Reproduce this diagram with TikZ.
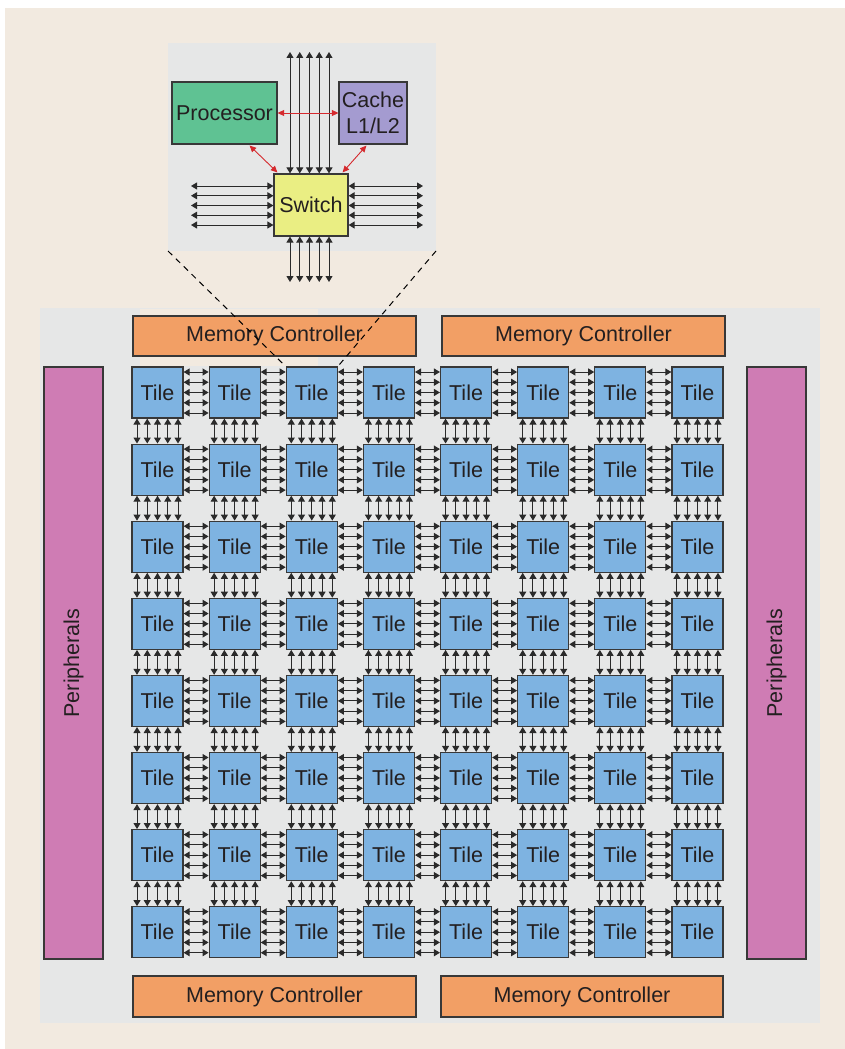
\documentclass[tikz,border=0pt]{standalone}
\usepackage{fontspec}
\setmainfont{Liberation Sans}
\usetikzlibrary{arrows.meta,calc}
\definecolor{bgbeige}{HTML}{F2EAE0}
\definecolor{chipgray}{HTML}{E6E7E7}
\definecolor{memorange}{HTML}{F29F65}
\definecolor{perpink}{HTML}{CF7CB4}
\definecolor{tileblue}{HTML}{7EB3E1}
\definecolor{procgreen}{HTML}{5FC293}
\definecolor{cachepurple}{HTML}{A49BD0}
\definecolor{switchyellow}{HTML}{EAEE83}
\definecolor{redc}{HTML}{D52A2E}
\definecolor{boxline}{HTML}{383838}
\definecolor{arrline}{HTML}{2A2A2A}
\definecolor{txt}{HTML}{231F20}
\begin{document}
\begin{tikzpicture}[x=1pt,y=-1pt,
  box/.style={draw=boxline,line width=1.2pt,inner sep=0pt,text=txt,align=center,font=\fontsize{21.5}{26}\selectfont},
  tilebox/.style={box,fill=tileblue,minimum width=51pt,minimum height=51pt},
  mcbox/.style={box,fill=memorange,minimum height=40pt},
  perbox/.style={box,fill=perpink,minimum width=592pt,minimum height=59pt,rotate=90},
  arr/.style={line width=1pt,draw=arrline,{Triangle[length=6pt,width=7pt]}-{Triangle[length=6pt,width=7pt]}},
  redarr/.style={line width=0.9pt,draw=redc,{Triangle[length=6.5pt,width=6pt]}-{Triangle[length=6.5pt,width=6pt]}},
  zoomline/.style={line width=1pt,draw=black,dash pattern=on 6pt off 5pt}
]
\useasboundingbox (0,0) rectangle (845,1049);
\fill[white] (0,0) rectangle (845,1049);
\fill[bgbeige] (5,8) rectangle (845,1049);
% chip background
\fill[chipgray] (40,308) rectangle (820,1023);
\fill[bgbeige] (140,309) rectangle (318,366);
% inset background
\node[fill=chipgray,minimum width=268pt,minimum height=208pt,inner sep=0pt,outer sep=0pt,anchor=north west] (inset) at (168,43) {};

% memory controllers
\node[mcbox,minimum width=283pt] (mc1) at (274.5,336) {Memory Controller};
\node[mcbox,minimum width=283pt] (mc2) at (583.5,336) {Memory Controller};
\node[mcbox,minimum width=283pt,minimum height=41pt] (mc3) at (274.5,996.5) {Memory Controller};
\node[mcbox,minimum width=282pt,minimum height=41pt] (mc4) at (582,996.5) {Memory Controller};
% peripherals
\node[perbox] (per1) at (73.5,663) {Peripherals};
\node[perbox] (per2) at (776.5,663) {Peripherals};

% tiles
\foreach \i in {0,...,7}{
  \foreach \j in {0,...,7}{
    \pgfmathsetmacro\cx{132+77.14*\i+25.5}
    \pgfmathsetmacro\cy{367+77.1*\j+25.5}
    \node[tilebox] (t-\i-\j) at (\cx,\cy) {Tile};
  }
}
% horizontal links
\foreach \i [evaluate=\i as \ii using int(\i+1)] in {0,...,6}{
  \foreach \j in {0,...,7}{
    \foreach \k in {-20.5,-10.25,0,10.25,20.5}{
      \draw[arr] ([yshift=\k pt]t-\i-\j.east) -- ([yshift=\k pt]t-\ii-\j.west);
    }
  }
}
% vertical links
\foreach \i in {0,...,7}{
  \foreach \j [evaluate=\j as \jj using int(\j+1)] in {0,...,6}{
    \foreach \k in {-20.5,-10.25,0,10.25,20.5}{
      \draw[arr] ([xshift=\k pt]t-\i-\j.south) -- ([xshift=\k pt]t-\i-\jj.north);
    }
  }
}

% inset contents
\node[box,fill=procgreen,minimum width=105pt,minimum height=62pt] (proc) at (224.5,113) {Processor};
\node[box,fill=cachepurple,minimum width=68pt,minimum height=62pt] (cache) at (373,113) {Cache\\L1/L2};
\node[box,fill=switchyellow,minimum width=74pt,minimum height=62pt] (sw) at (311,205) {Switch};
\coordinate (topend) at (309.5,52);
\coordinate (botend) at (309.5,282);
\coordinate (leftend) at (191,205.5);
\coordinate (rightend) at (423,205.5);
\foreach \k in {-19.5,-9.75,0,9.75,19.5}{
  \draw[arr] ([xshift=\k pt]topend) -- ([xshift=\k pt]topend |- sw.north);
  \draw[arr] ([xshift=\k pt]botend |- sw.south) -- ([xshift=\k pt]botend);
  \draw[arr] ([yshift=\k pt]leftend) -- ([yshift=\k pt]sw.west |- leftend);
  \draw[arr] ([yshift=\k pt]sw.east |- rightend) -- ([yshift=\k pt]rightend);
}
\draw[redarr] (proc.east) -- (cache.west);
\draw[redarr] ([xshift=-28pt,yshift=-1pt]proc.south east) -- ([xshift=4pt,yshift=1pt]sw.north west);
\draw[redarr] ([xshift=28pt,yshift=-1pt]cache.south west) -- ([xshift=-6pt,yshift=1pt]sw.north east);

% zoom lines
\draw[zoomline] (inset.south west) -- (t-2-0.north west);
\draw[zoomline] (inset.south east) -- (t-2-0.north east);
\end{tikzpicture}
\end{document}
